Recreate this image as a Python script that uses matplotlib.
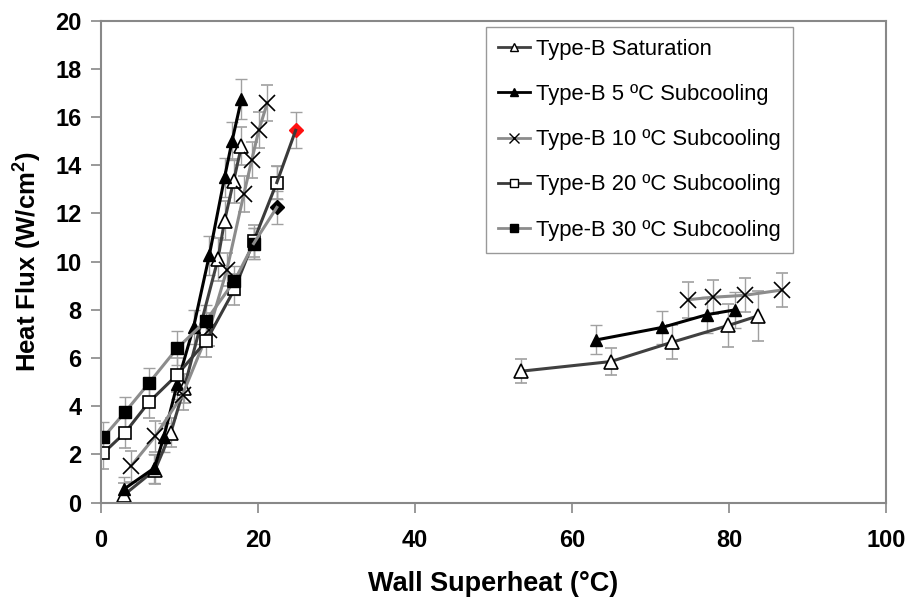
import numpy as np
import matplotlib.pyplot as plt
from matplotlib.lines import Line2D

plt.rcParams['font.family'] = ['Liberation Sans', 'DejaVu Sans']
plt.rcParams['mathtext.fontset'] = 'custom'
plt.rcParams['mathtext.rm'] = 'Liberation Sans'
plt.rcParams['mathtext.bf'] = 'Liberation Sans:bold'

nan = np.nan

# Type-B saturation (left cluster, then right cluster)
sat_x = [2.9, 6.9, 8.9, 10.6, 14.9, 15.75, 16.9, 17.9, nan, 53.5, 64.9, 72.7, 79.9, 83.7]
sat_y = [0.3, 1.36, 2.9, 4.75, 10.1, 11.7, 13.35, 14.8, nan, 5.45, 5.85, 6.65, 7.35, 7.75]
sat_e = [0.5, 0.6, 0.6, 0.6, 0.9, 0.8, 0.9, 0.8, nan, 0.5, 0.55, 0.7, 0.9, 1.05]

# 5 C subcooling
sc5_x = [3.0, 6.8, 8.0, 9.7, 11.8, 13.8, 15.75, 16.7, 17.9, nan, 63.1, 71.5, 77.2, 80.8]
sc5_y = [0.57, 1.43, 2.7, 4.9, 7.28, 10.26, 13.5, 15.0, 16.75, nan, 6.75, 7.27, 7.8, 8.0]
sc5_e = [0.5, 0.6, 0.6, 0.6, 0.7, 0.8, 0.8, 0.8, 0.85, nan, 0.6, 0.7, 0.75, 0.75]

# 10 C subcooling
sc10_x = [3.8, 6.9, 10.4, 13.8, 16.05, 18.2, 19.2, 20.1, 21.2, nan, 74.8, 77.9, 81.95, 86.7]
sc10_y = [1.5, 2.74, 4.48, 7.18, 9.67, 12.8, 14.2, 15.45, 16.6, nan, 8.42, 8.52, 8.6, 8.82]
sc10_e = [0.65, 0.65, 0.65, 0.7, 0.7, 0.75, 0.75, 0.75, 0.75, nan, 0.75, 0.7, 0.7, 0.7]

# 20 C subcooling
sc20_x = [0.3, 3.07, 6.1, 9.7, 13.4, 17.0, 19.45, 22.4, 24.8]
sc20_y = [2.05, 2.9, 4.16, 5.3, 6.7, 8.85, 10.85, 13.28, 15.45]
sc20_e = [0.65, 0.65, 0.65, 0.7, 0.65, 0.65, 0.65, 0.7, 0.75]

# 30 C subcooling
sc30_x = [0.3, 3.07, 6.1, 9.7, 13.4, 17.0, 19.45, 22.4]
sc30_y = [2.7, 3.75, 4.95, 6.4, 7.55, 9.2, 10.75, 12.25]
sc30_e = [0.65, 0.65, 0.65, 0.7, 0.65, 0.6, 0.65, 0.7]

labels = ['Type-B Saturation', 'Type-B 5 ºC Subcooling', 'Type-B 10 ºC Subcooling',
          'Type-B 20 ºC Subcooling', 'Type-B 30 ºC Subcooling']

fig = plt.figure(figsize=(9.09, 6.0), dpi=100)
ax = fig.add_axes([0.111, 0.1625, 0.864, 0.803])

ebar = dict(ecolor='#a0a0a0', elinewidth=1.0, capsize=4, capthick=1.0)

ax.errorbar(sat_x, sat_y, yerr=sat_e, color='#404040', lw=2.2, marker='^', ms=10,
            mfc='white', mec='black', mew=1.2, **ebar)
ax.errorbar(sc5_x, sc5_y, yerr=sc5_e, color='black', lw=2.2, marker='^', ms=9,
            mfc='black', mec='black', **ebar)
ax.errorbar(sc10_x, sc10_y, yerr=sc10_e, color='#8c8c8c', lw=2.2, marker='x', ms=11,
            mec='black', mew=1.2, **ebar)
ax.errorbar(sc20_x[:-1], sc20_y[:-1], yerr=sc20_e[:-1], color='#3a3a3a', lw=2.2, marker='s',
            ms=9, mfc='white', mec='black', mew=1.2, **ebar)
ax.errorbar(sc20_x[-2:], sc20_y[-2:], yerr=sc20_e[-2:], color='#3a3a3a', lw=2.2, marker='',
            **ebar)
ax.plot(sc20_x[-1], sc20_y[-1], marker='D', ms=7, color='#ff1010', ls='none')
ax.errorbar(sc30_x[:-1], sc30_y[:-1], yerr=sc30_e[:-1], color='#8c8c8c', lw=2.2, marker='s',
            ms=9, mfc='black', mec='black', **ebar)
ax.errorbar(sc30_x[-2:], sc30_y[-2:], yerr=sc30_e[-2:], color='#8c8c8c', lw=2.2, marker='',
            **ebar)
ax.plot(sc30_x[-1], sc30_y[-1], marker='D', ms=7, color='black', ls='none')

ax.set_xlim(0, 100)
ax.set_ylim(0, 20)
ax.set_xticks(range(0, 101, 20))
ax.set_yticks(range(0, 21, 2))
for s in ax.spines.values():
    s.set_color('#888888')
    s.set_linewidth(1.5)
ax.tick_params(direction='out', length=7, width=1.2, color='#888888', labelsize=17, pad=7)
ax.tick_params(axis='x', pad=12)
for t in ax.get_xticklabels() + ax.get_yticklabels():
    t.set_fontweight('bold')

ax.set_xlabel('Wall Superheat (°C)', fontsize=19.5, fontweight='bold', labelpad=14)
ax.set_ylabel(r'Heat Flux (W/cm$^{\mathbf{2}}$)', fontsize=18.5, fontweight='bold', labelpad=9)

handles = [
    Line2D([], [], color='#404040', lw=2, marker='^', ms=6, mfc='white', mec='black'),
    Line2D([], [], color='black', lw=2, marker='^', ms=6, mfc='black', mec='black'),
    Line2D([], [], color='#8c8c8c', lw=2, marker='x', ms=7, mec='black'),
    Line2D([], [], color='#3a3a3a', lw=2, marker='s', ms=5.5, mfc='white', mec='black'),
    Line2D([], [], color='#8c8c8c', lw=2, marker='s', ms=5.5, mfc='black', mec='black'),
]
leg = ax.legend(handles, labels, loc='upper left', bbox_to_anchor=(0.490, 0.987),
                borderaxespad=0, fontsize=15.8, handlelength=1.45, handletextpad=0.3,
                labelspacing=1.1, borderpad=0.55, fancybox=False, framealpha=1,
                edgecolor='#999999')
leg.get_frame().set_linewidth(1.0)

fig.savefig('out.png', dpi=100)
